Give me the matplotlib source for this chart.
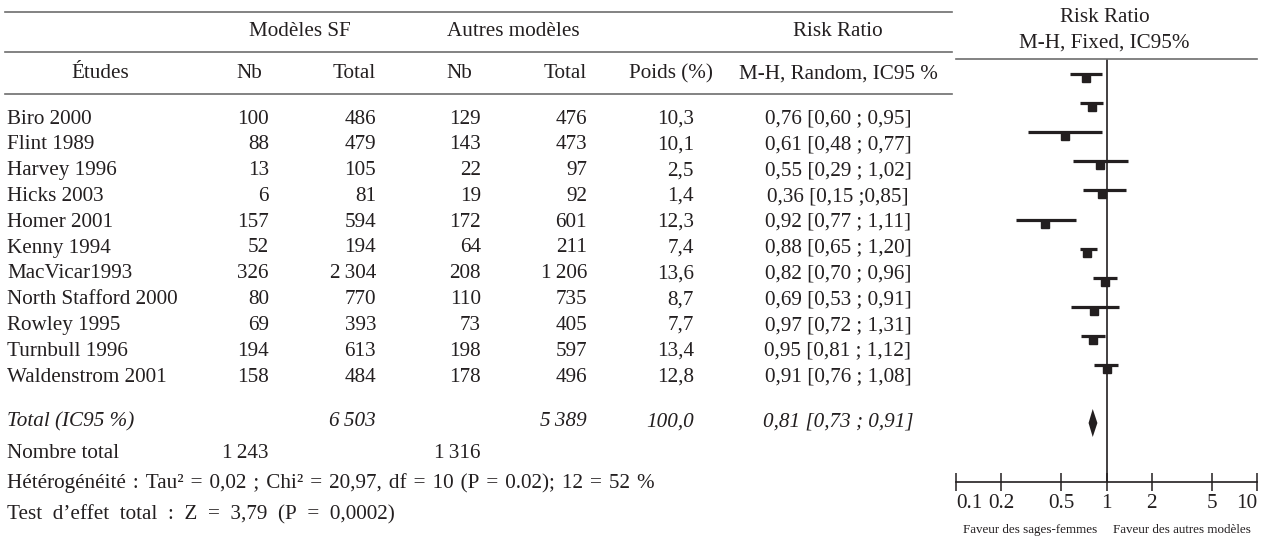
import matplotlib
matplotlib.use("Agg")
import matplotlib.pyplot as plt
from matplotlib.transforms import ScaledTranslation

plt.rcParams['font.family'] = ['Liberation Serif', 'DejaVu Serif']

# table data
studies = ['Biro 2000', 'Flint 1989', 'Harvey 1996', 'Hicks 2003', 'Homer 2001',
           'Kenny 1994', 'MacVicar1993', 'North Stafford 2000', 'Rowley 1995',
           'Turnbull 1996', 'Waldenstrom 2001']
sf_nb = [100, 88, 13, 6, 157, 52, 326, 80, 69, 194, 158]
sf_total = [486, 479, 105, 81, 594, 194, 2304, 770, 393, 613, 484]
au_nb = [129, 143, 22, 19, 172, 64, 208, 110, 73, 198, 178]
au_total = [476, 473, 97, 92, 601, 211, 1206, 735, 405, 597, 496]
poids = [10.3, 10.1, 2.5, 1.4, 12.3, 7.4, 13.6, 8.7, 7.7, 13.4, 12.8]
rr_labels = ['0,76 [0,60 ; 0,95]', '0,61 [0,48 ; 0,77]', '0,55 [0,29 ; 1,02]',
             '0,36 [0,15 ;0,85]', '0,92 [0,77 ; 1,11]', '0,88 [0,65 ; 1,20]',
             '0,82 [0,70 ; 0,96]', '0,69 [0,53 ; 0,91]', '0,97 [0,72 ; 1,31]',
             '0,95 [0,81 ; 1,12]', '0,91 [0,76 ; 1,08]']
total_sf, total_au, total_poids = 6503, 5389, 100.0
total_rr = '0,81 [0,73 ; 0,91]'
events_sf, events_au = 1243, 1316
heterog = 'Hétérogénéité : Tau² = 0,02 ; Chi² = 20,97, df = 10 (P = 0.02); 12 = 52 %'
effet = 'Test d’effet total : Z = 3,79 (P = 0,0002)'

# forest plot as drawn
forest_est = [0.73, 0.80, 0.53, 0.90, 0.94, 0.39, 0.74, 0.97, 0.83, 0.81, 1.00]
forest_lo = [0.57, 0.67, 0.30, 0.60, 0.70, 0.25, 0.67, 0.81, 0.58, 0.68, 0.82]
forest_hi = [0.93, 0.95, 0.94, 1.40, 1.34, 0.63, 0.86, 1.18, 1.22, 0.98, 1.20]
pooled_est, pooled_lo, pooled_hi = 0.81, 0.76, 0.87
xticks = [0.1, 0.2, 0.5, 1, 2, 5, 10]
xtick_labels = ['0.1', '0.2', '0.5', '1', '2', '5', '10']

W, H = 1261, 537
ink = '#231f20'
fs = 15.2


def num(v):
    # thin space as thousands separator
    return '{:,}'.format(v).replace(',', '\u2009')


def dec(v):
    return '{:.1f}'.format(v).replace('.', ',')


fig = plt.figure(figsize=(W / 100, H / 100), dpi=100)

# table part, pixel coordinates
tab = fig.add_axes([0, 0, 1, 1])
tab.set_xlim(0, W)
tab.set_ylim(H, 0)
tab.axis('off')

for y in [12, 52, 94]:
    tab.plot([5, 952], [y, y], color='#6d6d6d', lw=1.2)

kw = dict(fontsize=fs, color=ink, va='center')
tab.text(300, 32, 'Modèles SF', ha='center', **kw)
tab.text(513, 32, 'Autres modèles', ha='center', **kw)
tab.text(838, 32, 'Risk Ratio', ha='center', **kw)
tab.text(100, 74, 'Études', ha='center', **kw)
tab.text(249, 74, 'Nb', ha='center', **kw)
tab.text(376, 74, 'Total', ha='right', **kw)
tab.text(459, 74, 'Nb', ha='center', **kw)
tab.text(587, 74, 'Total', ha='right', **kw)
tab.text(671, 74, 'Poids (%)', ha='center', **kw)
tab.text(838, 74, 'M-H, Random, IC95 %', ha='center', **kw)

row0, step = 119, 25.8
for i, s in enumerate(studies):
    y = row0 + i * step
    tab.text(7, y, s, ha='left', **kw)
    tab.text(269, y, num(sf_nb[i]), ha='right', **kw)
    tab.text(376, y, num(sf_total[i]), ha='right', **kw)
    tab.text(481, y, num(au_nb[i]), ha='right', **kw)
    tab.text(587, y, num(au_total[i]), ha='right', **kw)
    tab.text(694, y, dec(poids[i]), ha='right', **kw)
    tab.text(838, y, rr_labels[i], ha='center', **kw)

yt = 422
tab.text(7, yt, 'Total (IC95 %)', ha='left', style='italic', **kw)
tab.text(376, yt, num(total_sf), ha='right', style='italic', **kw)
tab.text(587, yt, num(total_au), ha='right', style='italic', **kw)
tab.text(694, yt, dec(total_poids), ha='right', style='italic', **kw)
tab.text(838, yt, total_rr, ha='center', style='italic', **kw)

tab.text(7, 453, 'Nombre total', ha='left', **kw)
tab.text(269, 453, num(events_sf), ha='right', **kw)
tab.text(481, 453, num(events_au), ha='right', **kw)
# the source sets these two lines with wide word spacing
tab.text(7, 483, heterog.replace(' ', '\u2004'), ha='left', **kw)
tab.text(7, 515, effet.replace(' ', '\u2002'), ha='left', **kw)

tab.text(1105, 17, 'Risk Ratio', ha='center', **kw)
tab.text(1104, 43, 'M-H, Fixed, IC95%', ha='center', **kw)
tab.text(1030, 530, 'Faveur des sages-femmes', ha='center', fontsize=9.4, color=ink, va='center')
tab.text(1182, 530, 'Faveur des autres modèles', ha='center', fontsize=9.4, color=ink, va='center')

# forest plot: axes spans the header rule (top) to the axis line (bottom)
top_px, bot_px, left_px, right_px = 59, 482, 956, 1257
ax = fig.add_axes([left_px / W, 1 - bot_px / H, (right_px - left_px) / W, (bot_px - top_px) / H])
ax.patch.set_alpha(0)
ax.set_xscale('log')
ax.set_xlim(0.1, 10)
ax.set_ylim(bot_px, top_px)
ax.spines['left'].set_visible(False)
ax.spines['right'].set_visible(False)
ax.spines['top'].set_color('#6d6d6d')
ax.spines['top'].set_linewidth(1.2)
ax.spines['bottom'].set_color(ink)
ax.spines['bottom'].set_linewidth(1.2)
ax.set_yticks([])
ax.set_xticks(xticks)
ax.set_xticklabels(xtick_labels)
ax.minorticks_off()
ax.tick_params(axis='x', direction='inout', length=13, width=1.1, color=ink,
               labelsize=fs, labelcolor=ink, pad=2)
lbls = ax.get_xticklabels()
lbls[0].set_ha('left')
lbls[-1].set_ha('right')

ax.axvline(1, color=ink, lw=1.2)

f_row0, f_step = 74, 29.1
ys = [f_row0 + i * f_step for i in range(len(forest_est))]
ax.hlines(ys, forest_lo, forest_hi, color=ink, lw=2.3)
sq_shift = ax.transData + ScaledTranslation(0, -0.04, fig.dpi_scale_trans)
ax.plot(forest_est, ys, 's', color=ink, ms=5.4, transform=sq_shift, clip_on=False)

yd = 423
ax.fill([pooled_lo, pooled_est, pooled_hi, pooled_est], [yd, yd - 14, yd, yd + 14],
        color=ink, lw=0)

fig.savefig('out.png', dpi=100)
